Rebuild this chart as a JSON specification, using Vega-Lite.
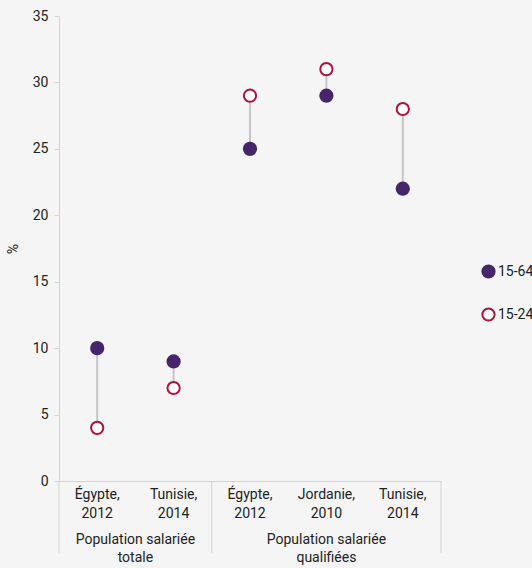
{
  "$schema": "https://vega.github.io/schema/vega-lite/v6.json",
  "autosize": "none",
  "width": 382,
  "height": 465,
  "padding": {"left": 59, "top": 16, "right": 91, "bottom": 87},
  "background": "#f5f5f5",
  "config": {
    "view": {"stroke": null},
    "font": "Roboto",
    "axis": {"labelFontSize": 14, "labelColor": "#222222", "domainColor": "#d3d3d3", "tickColor": "#d3d3d3", "titleFontSize": 14, "titleColor": "#222222", "titleFontWeight": "normal", "grid": false},
    "legend": {"labelFontSize": 14, "labelColor": "#222222"}
  },
  "datasets": {
    "points": [
      {"cle": "T|Égypte,|2012", "age": "15-64", "valeur": 10},
      {"cle": "T|Égypte,|2012", "age": "15-24", "valeur": 4},
      {"cle": "T|Tunisie,|2014", "age": "15-64", "valeur": 9},
      {"cle": "T|Tunisie,|2014", "age": "15-24", "valeur": 7},
      {"cle": "Q|Égypte,|2012", "age": "15-64", "valeur": 25},
      {"cle": "Q|Égypte,|2012", "age": "15-24", "valeur": 29},
      {"cle": "Q|Jordanie,|2010", "age": "15-64", "valeur": 29},
      {"cle": "Q|Jordanie,|2010", "age": "15-24", "valeur": 31},
      {"cle": "Q|Tunisie,|2014", "age": "15-64", "valeur": 22},
      {"cle": "Q|Tunisie,|2014", "age": "15-24", "valeur": 28}
    ]
  },
  "layer": [
    {
      "data": {"values": [{"cle": "T|Égypte,|2012"}, {"cle": "Q|Égypte,|2012"}]},
      "mark": {"type": "rule", "color": "#d3d3d3", "strokeWidth": 1, "clip": false},
      "encoding": {
        "x": {"field": "cle", "type": "nominal", "bandPosition": 0, "sort": null,
          "scale": {"domain": ["T|Égypte,|2012", "T|Tunisie,|2014", "Q|Égypte,|2012", "Q|Jordanie,|2010", "Q|Tunisie,|2014"], "paddingInner": 0, "paddingOuter": 0},
          "axis": {"title": null, "labelAngle": 0, "ticks": false, "labelExpr": "slice(split(datum.label,'|'),1)", "labelPadding": 6, "labelLineHeight": 19, "labelBaseline": "top"}},
        "y": {"datum": 0, "type": "quantitative", "scale": {"domain": [0, 35], "nice": false, "zero": false},
          "axis": {"title": "%", "values": [0, 5, 10, 15, 20, 25, 30, 35], "tickSize": 5, "labelPadding": 6, "titlePadding": 12}},
        "y2": {"datum": -5.4}
      }
    },
    {
      "data": {"values": [{"cle": "Q|Tunisie,|2014"}]},
      "mark": {"type": "rule", "color": "#d3d3d3", "strokeWidth": 1, "clip": false},
      "encoding": {
        "x": {"field": "cle", "type": "nominal", "bandPosition": 1, "scale": {"domain": ["T|Égypte,|2012", "T|Tunisie,|2014", "Q|Égypte,|2012", "Q|Jordanie,|2010", "Q|Tunisie,|2014"]}},
        "y": {"datum": 0, "type": "quantitative", "scale": {"domain": [0, 35]}},
        "y2": {"datum": -5.4}
      }
    },
    {
      "data": {"values": [
        {"cle": "T|Tunisie,|2014", "groupe": "Population salariée\ntotale"}
      ]},
      "mark": {"type": "text", "fontSize": 14, "color": "#222222", "lineBreak": "\n", "lineHeight": 18, "baseline": "top", "clip": false},
      "encoding": {
        "x": {"field": "cle", "type": "nominal", "bandPosition": 0, "scale": {"domain": ["T|Égypte,|2012", "T|Tunisie,|2014", "Q|Égypte,|2012", "Q|Jordanie,|2010", "Q|Tunisie,|2014"]}},
        "y": {"datum": -3.9, "type": "quantitative", "scale": {"domain": [0, 35]}},
        "text": {"field": "groupe"}
      }
    },
    {
      "data": {"values": [
        {"cle": "Q|Jordanie,|2010", "groupe": "Population salariée\nqualifiées"}
      ]},
      "mark": {"type": "text", "fontSize": 14, "color": "#222222", "lineBreak": "\n", "lineHeight": 18, "baseline": "top", "clip": false},
      "encoding": {
        "x": {"field": "cle", "type": "nominal", "bandPosition": 0.5, "scale": {"domain": ["T|Égypte,|2012", "T|Tunisie,|2014", "Q|Égypte,|2012", "Q|Jordanie,|2010", "Q|Tunisie,|2014"]}},
        "y": {"datum": -3.9, "type": "quantitative", "scale": {"domain": [0, 35]}},
        "text": {"field": "groupe"}
      }
    },
    {
      "data": {"name": "points"},
      "mark": {"type": "line", "color": "#c9c5c5", "strokeWidth": 2},
      "encoding": {
        "x": {"field": "cle", "type": "nominal", "scale": {"domain": ["T|Égypte,|2012", "T|Tunisie,|2014", "Q|Égypte,|2012", "Q|Jordanie,|2010", "Q|Tunisie,|2014"]}},
        "y": {"field": "valeur", "type": "quantitative", "scale": {"domain": [0, 35]}},
        "detail": {"field": "cle"}
      }
    },
    {
      "data": {"name": "points"},
      "mark": {"type": "point", "shape": "circle", "size": 150, "strokeWidth": 2, "opacity": 1, "filled": false},
      "encoding": {
        "x": {"field": "cle", "type": "nominal", "scale": {"domain": ["T|Égypte,|2012", "T|Tunisie,|2014", "Q|Égypte,|2012", "Q|Jordanie,|2010", "Q|Tunisie,|2014"]}},
        "y": {"field": "valeur", "type": "quantitative", "scale": {"domain": [0, 35]}},
        "fill": {"field": "age", "type": "nominal", "scale": {"domain": ["15-64", "15-24"], "range": ["#45266b", "#ffffff"]},
          "legend": {"title": null, "orient": "none", "legendX": 422, "legendY": 248, "rowPadding": 22, "symbolSize": 150, "symbolStrokeWidth": 2, "labelOffset": 2}},
        "stroke": {"field": "age", "type": "nominal", "scale": {"domain": ["15-64", "15-24"], "range": ["#45266b", "#ae1339"]},
          "legend": {"title": null, "orient": "none", "legendX": 422, "legendY": 248, "rowPadding": 22, "symbolSize": 150, "symbolStrokeWidth": 2, "labelOffset": 2}}
      }
    }
  ]
}
